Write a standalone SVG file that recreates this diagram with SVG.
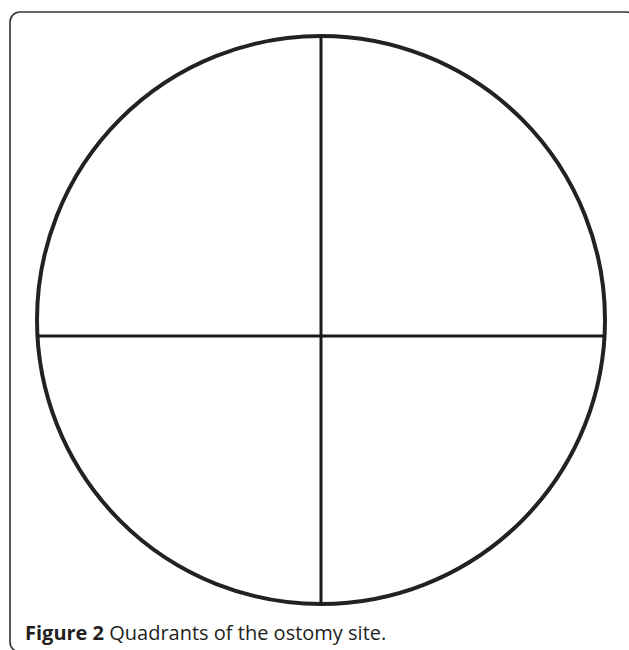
<svg xmlns="http://www.w3.org/2000/svg" width="629" height="650" viewBox="0 0 629 650">
<style>
.frame{fill:none;stroke:#333;stroke-width:1.6}
.ring{fill:none;stroke:#222;stroke-width:4}
.axis{stroke:#1a1a1a;stroke-width:3}
.cap{font-family:"Open Sans","Noto Sans",sans-serif;font-size:20px;fill:#231f20}
</style>
<rect class="frame" x="10" y="12" width="626" height="640" rx="10"/>
<g id="quadrants">
<circle id="site" class="ring" cx="321" cy="320" r="284"/>
</g>
<g id="connectors">
<line class="axis" x1="321" y1="36" x2="321" y2="605"/>
<line class="axis" x1="37" y1="336" x2="605" y2="336"/>
</g>
<text class="cap" x="25" y="640"><tspan font-weight="bold">Figure 2</tspan> Quadrants of the ostomy site.</text>
</svg>
